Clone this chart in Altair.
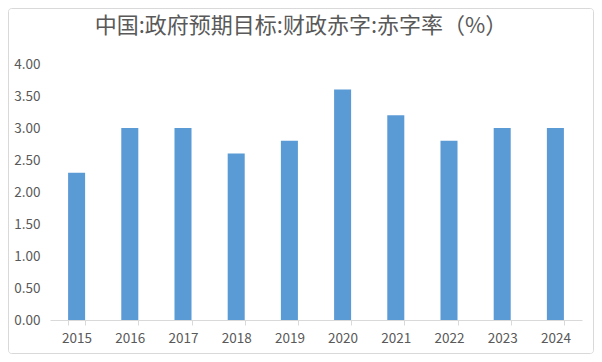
import altair as alt
import pandas as pd

years = ["2015", "2016", "2017", "2018", "2019", "2020", "2021", "2022", "2023", "2024"]
values = [2.3, 3.0, 3.0, 2.6, 2.8, 3.6, 3.2, 2.8, 3.0, 3.0]
y_ticks = [0, 0.5, 1.0, 1.5, 2.0, 2.5, 3.0, 3.5, 4.0]
title_text = "中国:政府预期目标:财政赤字:赤字率（%）"

df = pd.DataFrame({"year": years, "value": values})
FONT = "Noto Sans CJK SC"
GREY = "#595959"

border = alt.Chart(alt.Data(values=[{}])).mark_rect(
    fill="transparent", stroke="#d9d9d9", strokeWidth=1, cornerRadius=3, clip=False
).encode(
    x=alt.value(-41.5), x2=alt.value(543.5), y=alt.value(-55.5), y2=alt.value(289.5)
)

bars = alt.Chart(df).mark_bar(color="#5B9BD5").encode(
    x=alt.X("year:N", sort=years, title=None,
            scale=alt.Scale(paddingInner=0.68, paddingOuter=0.34),
            axis=alt.Axis(labelAngle=0, tickBand="extent", tickSize=5,
                          domainColor="#d9d9d9", tickColor="#d9d9d9",
                          labelPadding=6, labelFontSize=13.5, labelColor=GREY,
                          labelFont=FONT, grid=False)),
    y=alt.Y("value:Q", title=None,
            scale=alt.Scale(domain=[0, 4], nice=False),
            axis=alt.Axis(values=y_ticks, format=".2f", domain=False, ticks=False,
                          grid=False, labelPadding=10, labelFontSize=13.5,
                          labelColor=GREY, labelFont=FONT)),
)

chart = alt.layer(border, bars).properties(
    width=532,
    height=256,
    background="white",
    autosize=alt.AutoSizeParams(type="none"),
    padding={"left": 42, "top": 56, "right": 12, "bottom": 34},
    title=alt.TitleParams(title_text, anchor="middle", fontSize=22, font=FONT,
                          fontWeight="normal", color=GREY, offset=-30, dx=-15),
).configure_view(stroke=None)

chart.save("out.html", embed_options={"renderer": "svg", "actions": False})
